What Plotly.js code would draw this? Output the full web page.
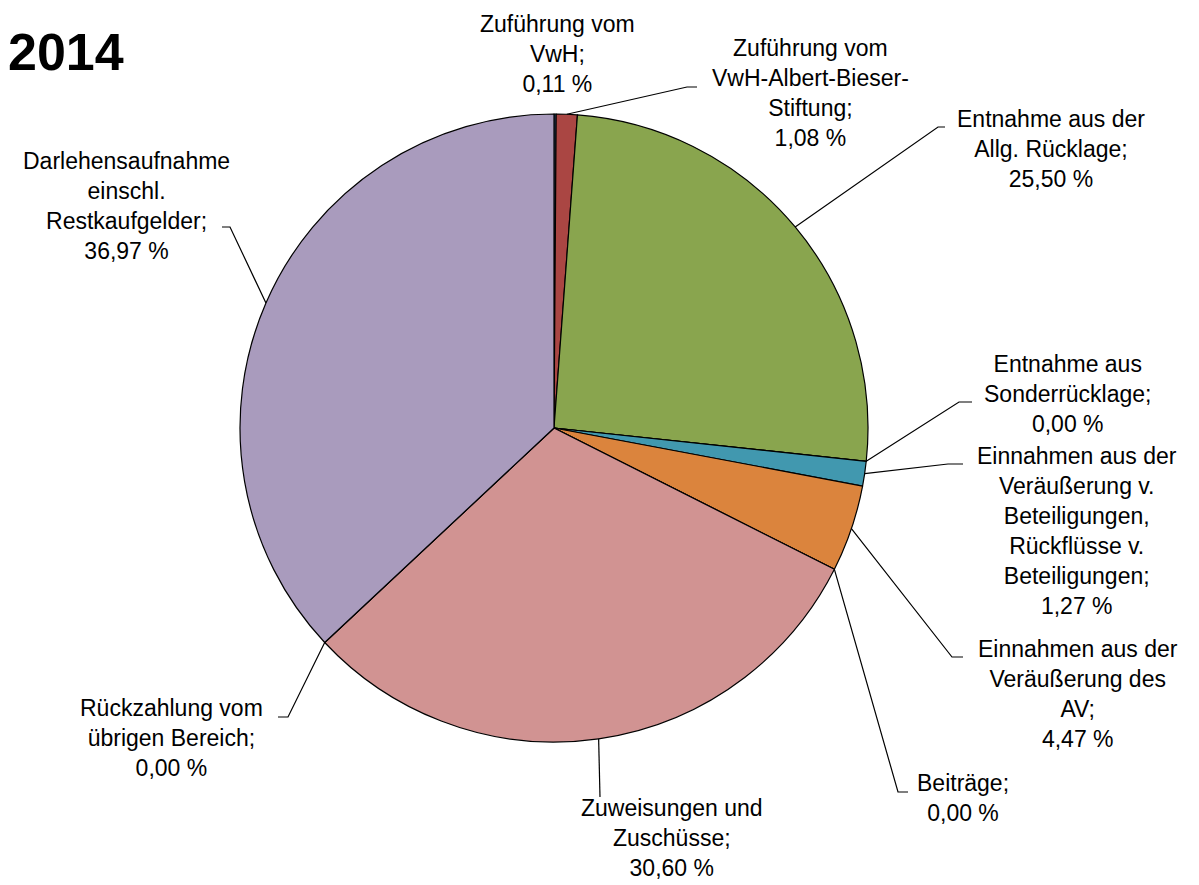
<!DOCTYPE html>
<html><head><meta charset="utf-8">
<script src="https://cdn.plot.ly/plotly-3.0.1.min.js"></script>
<style>body{margin:0;background:#fff}#chart{width:1199px;height:885px}</style>
</head><body><div id="chart"></div>
<script>
// ---- data ----
const chartTitle = '2014';
const categories = [
  'Zuführung vom<br>VwH;',
  'Zuführung vom<br>VwH-Albert-Bieser-<br>Stiftung;',
  'Entnahme aus der<br>Allg. Rücklage;',
  'Entnahme aus<br>Sonderrücklage;',
  'Einnahmen aus der<br>Veräußerung v.<br>Beteiligungen,<br>Rückflüsse v.<br>Beteiligungen;',
  'Einnahmen aus der<br>Veräußerung des<br>AV;',
  'Beiträge;',
  'Zuweisungen und<br>Zuschüsse;',
  'Rückzahlung vom<br>übrigen Bereich;',
  'Darlehensaufnahme<br>einschl.<br>Restkaufgelder;'
];
const shares = [0.11, 1.08, 25.50, 0.00, 1.27, 4.47, 0.00, 30.60, 0.00, 36.97];
const colors = ['#4572A7','#AA4643','#89A54E','#71588F','#4198AF','#DB843D','#93A9CF','#D19392','#B9CD96','#A99BBD'];

// ---- layout (pixels) ----
const W = 1199, H = 885;
const cx = 554, cy = 428, R = 314;
// label centre [x, y], leader elbow and end [x, y] (null = no leader)
const labelPos = [
  [557, 54], [810, 93], [1051, 149], [1068, 394], [1077, 531],
  [1078, 694], [963, 798], [672, 838], [171, 738], [127, 206]
];
const leaderPts = [
  null,
  [[687, 87], [697, 87]],
  [[938, 127], [945, 127]],
  [[959, 402], [972, 402]],
  [[948, 464], [963, 464]],
  [[952, 657], [963, 657]],
  [[898, 792], [908, 792]],
  [[600, 797], [600, 797]],
  [[288, 717], [278, 717]],
  [[230, 227], [222, 227]]
];

const px = x => x / W, py = y => 1 - y / H;
const total = shares.reduce((a, b) => a + b, 0);
const fmt = v => v.toFixed(2).replace('.', ',') + ' %';

const annotations = [];
const shapes = [];
let cum = 0;
shares.forEach((v, i) => {
  const mid = (cum + v / 2) / total;
  cum += v;
  const ang = mid * 2 * Math.PI;
  const sx = cx + R * Math.sin(ang), sy = cy - R * Math.cos(ang);
  annotations.push({
    xref: 'paper', yref: 'paper', x: px(labelPos[i][0]), y: py(labelPos[i][1]),
    xanchor: 'center', yanchor: 'middle', showarrow: false, align: 'center',
    text: categories[i] + '<br>' + fmt(v),
    font: {family: 'Arial, Liberation Sans, sans-serif', size: 23, color: '#000'}
  });
  if (leaderPts[i]) {
    const [e, t] = leaderPts[i];
    shapes.push({
      type: 'path', xref: 'paper', yref: 'paper',
      path: `M ${px(sx)} ${py(sy)} L ${px(e[0])} ${py(e[1])} L ${px(t[0])} ${py(t[1])}`,
      line: {color: '#000', width: 1.2}
    });
  }
});

annotations.push({
  xref: 'paper', yref: 'paper', x: px(6), y: py(52), xanchor: 'left', yanchor: 'middle',
  showarrow: false, text: '<b>' + chartTitle + '</b>',
  font: {family: 'Arial, Liberation Sans, sans-serif', size: 52, color: '#000'}
});

const trace = {
  type: 'pie', labels: categories.map((c, i) => 'c' + i), values: shares,
  sort: false, direction: 'clockwise', rotation: 0,
  textinfo: 'none', hoverinfo: 'skip',
  marker: {colors: colors, line: {color: '#000', width: 1.2}},
  domain: {x: [px(cx - R), px(cx + R)], y: [py(cy + R), py(cy - R)]},
  showlegend: false
};

Plotly.newPlot('chart', [trace], {
  width: W, height: H, margin: {l: 0, r: 0, t: 0, b: 0},
  paper_bgcolor: '#fff', plot_bgcolor: '#fff', showlegend: false,
  annotations: annotations, shapes: shapes
}, {staticPlot: true});
</script></body></html>
